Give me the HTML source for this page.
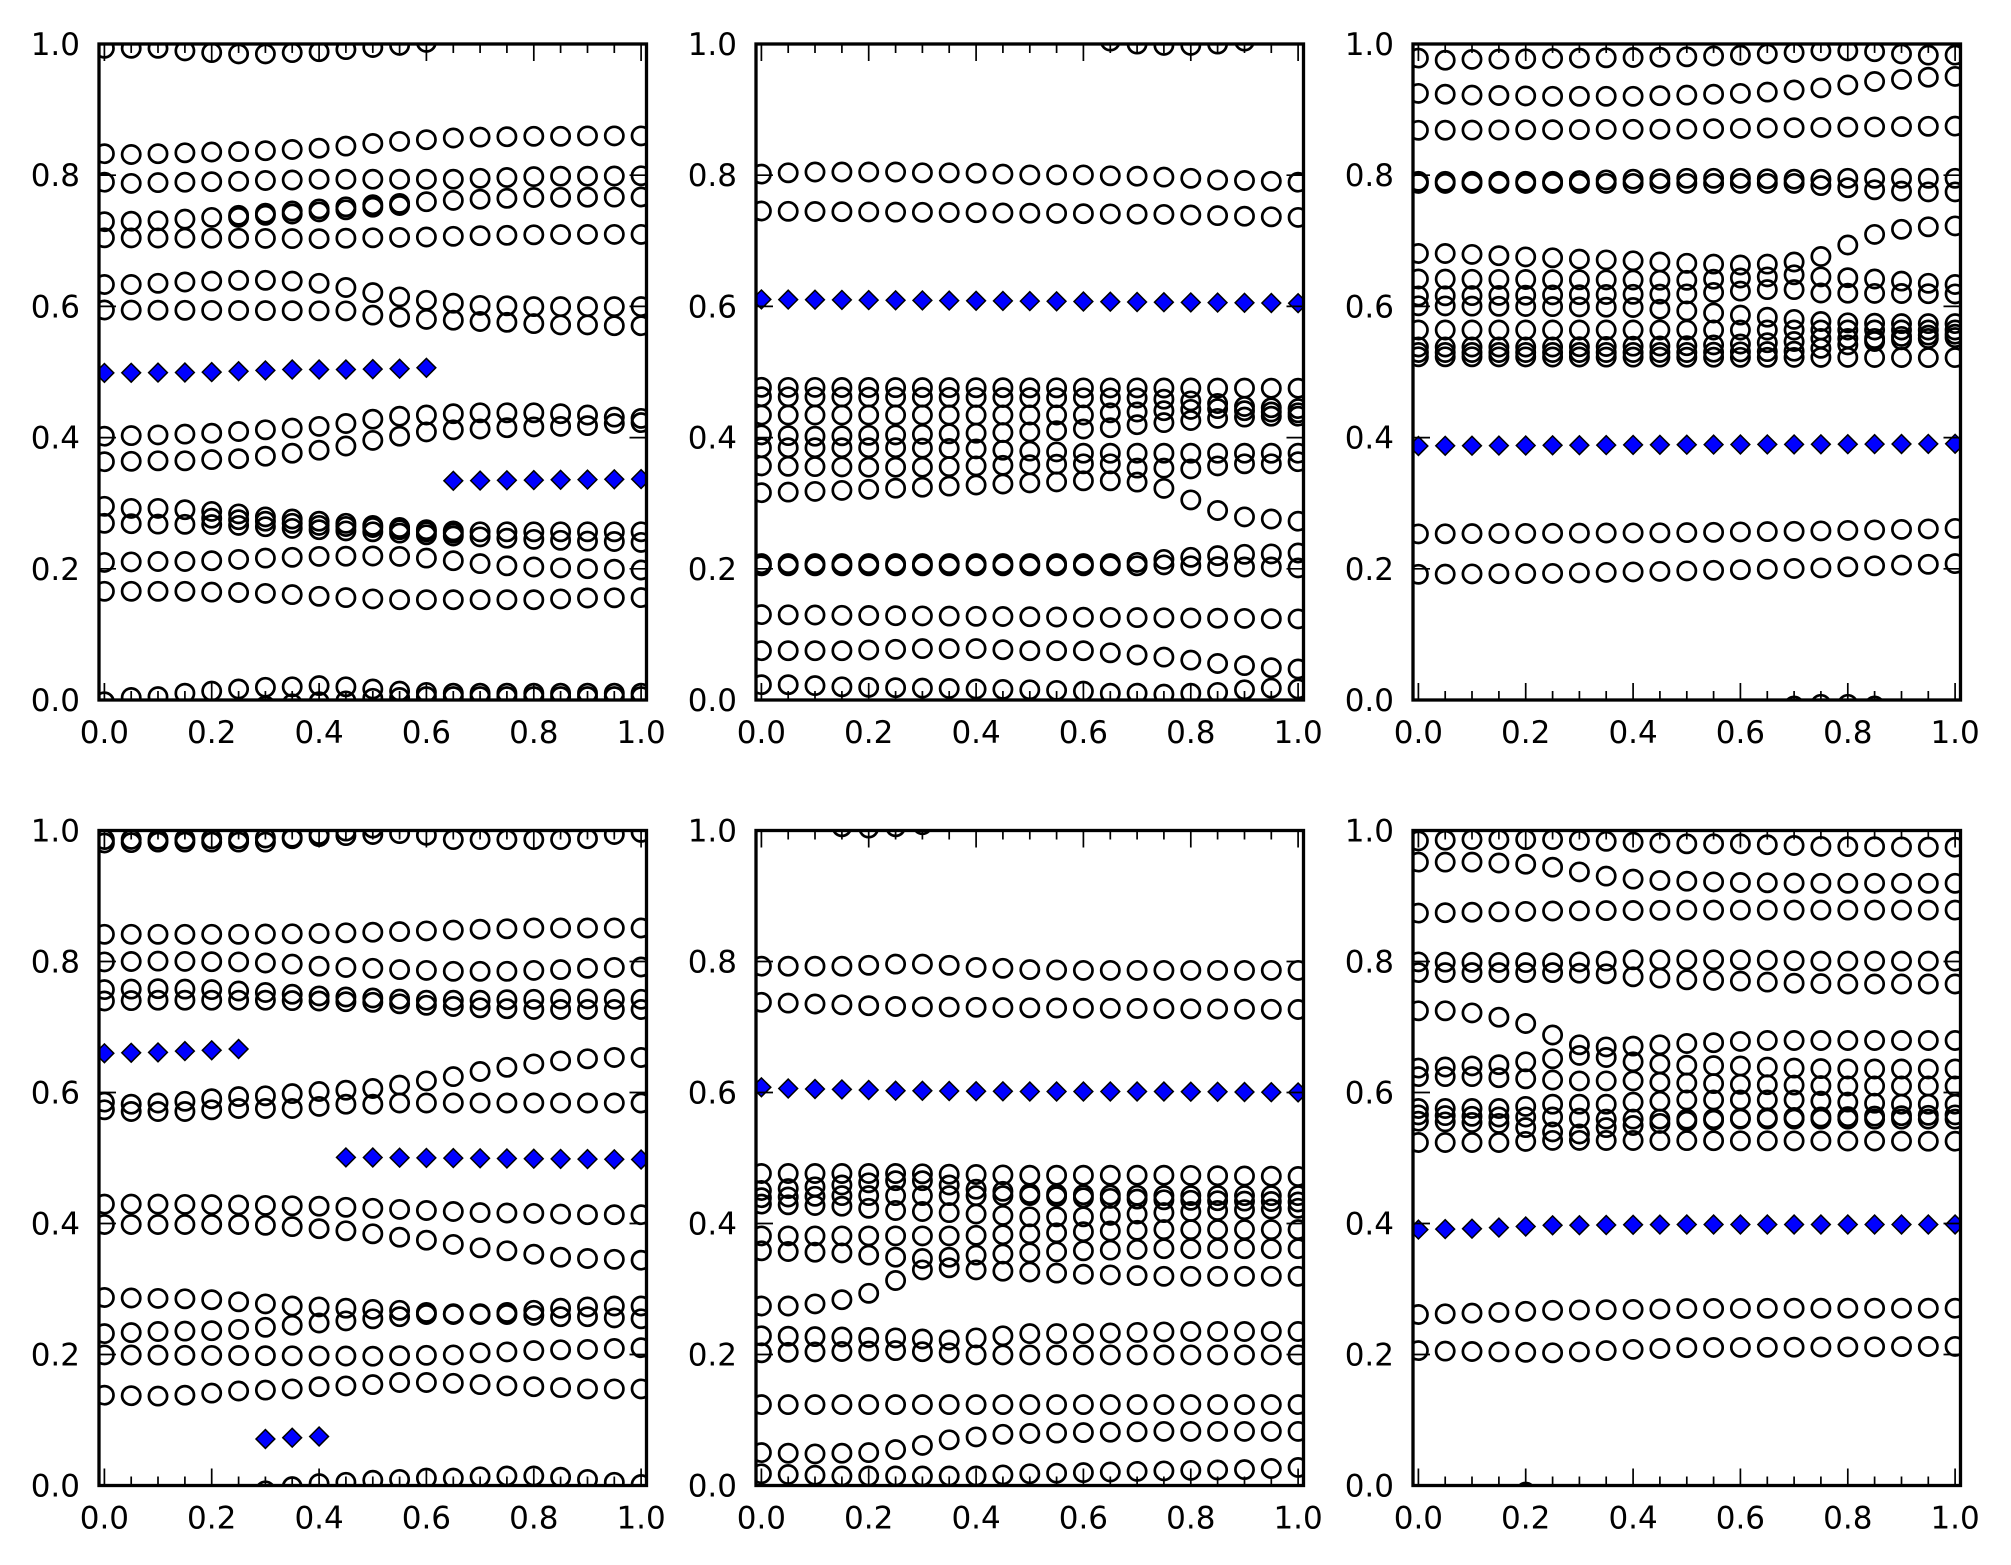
<!DOCTYPE html>
<html>
<head>
<meta charset="utf-8">
<style>
html,body{margin:0;padding:0;background:#fff;}
svg{display:block;}
text{font-family:"DejaVu Sans","Liberation Sans",sans-serif;font-size:31px;fill:#000;}
</style>
</head>
<body>
<svg id="s" width="2011" height="1565" viewBox="0 0 2011 1565" xmlns="http://www.w3.org/2000/svg">
<rect width="2011" height="1565" fill="#fff"/>
<defs>
<clipPath id="c0"><rect x="99" y="44" width="547.5" height="656"/></clipPath>
<clipPath id="c1"><rect x="756" y="44" width="547.5" height="656"/></clipPath>
<clipPath id="c2"><rect x="1413" y="44" width="547.5" height="656"/></clipPath>
<clipPath id="c3"><rect x="99" y="830.5" width="547.5" height="655"/></clipPath>
<clipPath id="c4"><rect x="756" y="830.5" width="547.5" height="655"/></clipPath>
<clipPath id="c5"><rect x="1413" y="830.5" width="547.5" height="655"/></clipPath>
</defs>
<g id="data"></g>
<g id="ticks" stroke="#000" stroke-width="1.7" fill="none"></g>
<g id="frames" fill="none" stroke="#000" stroke-width="3.3">
<rect x="99" y="44" width="547.5" height="656"/>
<rect x="756" y="44" width="547.5" height="656"/>
<rect x="1413" y="44" width="547.5" height="656"/>
<rect x="99" y="830.5" width="547.5" height="655"/>
<rect x="756" y="830.5" width="547.5" height="655"/>
<rect x="1413" y="830.5" width="547.5" height="655"/>
</g>
<g text-anchor="middle">
<text x="104.4" y="743">0.0</text><text x="211.7" y="743">0.2</text><text x="319.1" y="743">0.4</text><text x="426.4" y="743">0.6</text><text x="533.8" y="743">0.8</text><text x="641.1" y="743">1.0</text>
<text x="761.4" y="743">0.0</text><text x="868.7" y="743">0.2</text><text x="976.1" y="743">0.4</text><text x="1083.4" y="743">0.6</text><text x="1190.8" y="743">0.8</text><text x="1298.1" y="743">1.0</text>
<text x="1418.4" y="743">0.0</text><text x="1525.7" y="743">0.2</text><text x="1633.1" y="743">0.4</text><text x="1740.4" y="743">0.6</text><text x="1847.8" y="743">0.8</text><text x="1955.1" y="743">1.0</text>
<text x="104.4" y="1528.5">0.0</text><text x="211.7" y="1528.5">0.2</text><text x="319.1" y="1528.5">0.4</text><text x="426.4" y="1528.5">0.6</text><text x="533.8" y="1528.5">0.8</text><text x="641.1" y="1528.5">1.0</text>
<text x="761.4" y="1528.5">0.0</text><text x="868.7" y="1528.5">0.2</text><text x="976.1" y="1528.5">0.4</text><text x="1083.4" y="1528.5">0.6</text><text x="1190.8" y="1528.5">0.8</text><text x="1298.1" y="1528.5">1.0</text>
<text x="1418.4" y="1528.5">0.0</text><text x="1525.7" y="1528.5">0.2</text><text x="1633.1" y="1528.5">0.4</text><text x="1740.4" y="1528.5">0.6</text><text x="1847.8" y="1528.5">0.8</text><text x="1955.1" y="1528.5">1.0</text>
</g>
<g text-anchor="end">
<text x="80" y="55">1.0</text><text x="80" y="186.2">0.8</text><text x="80" y="317.4">0.6</text><text x="80" y="448.6">0.4</text><text x="80" y="579.8">0.2</text><text x="80" y="711">0.0</text>
<text x="737" y="55">1.0</text><text x="737" y="186.2">0.8</text><text x="737" y="317.4">0.6</text><text x="737" y="448.6">0.4</text><text x="737" y="579.8">0.2</text><text x="737" y="711">0.0</text>
<text x="1394" y="55">1.0</text><text x="1394" y="186.2">0.8</text><text x="1394" y="317.4">0.6</text><text x="1394" y="448.6">0.4</text><text x="1394" y="579.8">0.2</text><text x="1394" y="711">0.0</text>
<text x="80" y="841.5">1.0</text><text x="80" y="972.5">0.8</text><text x="80" y="1103.5">0.6</text><text x="80" y="1234.5">0.4</text><text x="80" y="1365.5">0.2</text><text x="80" y="1496.5">0.0</text>
<text x="737" y="841.5">1.0</text><text x="737" y="972.5">0.8</text><text x="737" y="1103.5">0.6</text><text x="737" y="1234.5">0.4</text><text x="737" y="1365.5">0.2</text><text x="737" y="1496.5">0.0</text>
<text x="1394" y="841.5">1.0</text><text x="1394" y="972.5">0.8</text><text x="1394" y="1103.5">0.6</text><text x="1394" y="1234.5">0.4</text><text x="1394" y="1365.5">0.2</text><text x="1394" y="1496.5">0.0</text>
</g>
</svg>
<script>
(function(){
var NS="http://www.w3.org/2000/svg";
var W=547.5, Ls=[99,756,1413], Ts=[44,830.5], Bs=[700,1485.5], CY=[39,826], SC=2.354;
var P=[
{c:0,r:0,circ:[
"0:22 1:22 2:22 3:28 4:32 5:35 6:35 7:32 8:30 9:25 10:20 11:15 12:8",
"0:270 1:272 2:270 3:268 4:266 5:265 6:263 7:260 8:257 9:252 10:246 11:241 12:237 13:233 14:231 15:230 16:229 17:229 18:228 19:228 20:228",
"0:337 1:340 2:338 3:337 4:336 5:335 6:333 7:332 8:330 13:330 14:328 15:326 16:324 17:323 18:323 20:322",
"0:430 2:428 3:424 4:420 5:415 6:410 7:405 8:400 9:395 10:390 11:387 12:383 13:380 14:377 15:375 16:373 20:372",
"5:420 6:415 7:412 8:407 9:402 10:396 11:392",
"0:468 8:470 10:468 12:466 14:463 16:461 18:460 20:460",
"0:578 1:578 2:575 3:572 4:570 5:568 6:568 7:570 8:575 9:585 10:597 11:607 12:615 13:622 14:627 15:628 16:630 20:630",
"0:638 9:640 10:650 11:655 12:660 13:662 14:665 15:667 16:670 17:673 18:673 19:675 20:675",
"0:935 2:932 4:928 6:920 8:912 9:905 10:895 11:888 12:885 13:882 14:880 16:880 17:882 18:885 19:890 20:893",
"0:995 2:993 3:993 4:990 5:988 6:982 7:975 8:968 9:958 10:945 11:935 12:925 13:920 14:918 15:915 16:913 17:912 18:910 19:905 20:903",
"0:1100 1:1105 2:1105 3:1108 4:1112 5:1118 6:1125 7:1130 8:1135 9:1140 10:1145 11:1150 12:1155 13:1158 14:1160 20:1160",
"0:1140 2:1142 4:1143 5:1145 6:1148 7:1152 8:1155 9:1158 10:1160 11:1163 12:1167 13:1170 14:1172 15:1175 16:1178 17:1180 18:1182 19:1183 20:1185",
"4:1128 6:1135 8:1145 10:1150 12:1160 13:1163",
"0:1232 2:1230 3:1230 4:1228 5:1225 6:1222 7:1220 8:1218 10:1217 11:1218 12:1222 13:1228 14:1235 15:1240 16:1243 17:1245 18:1247 19:1248 20:1250",
"0:1300 3:1300 4:1302 5:1303 6:1305 7:1308 8:1312 9:1315 10:1318 11:1320 16:1320 17:1318 18:1316 20:1315",
"0:1560 1:1550 2:1548 3:1540 4:1535 5:1530 6:1526 7:1525 8:1522 9:1525 10:1530 11:1535 12:1538 13:1540 20:1540",
"5:1575 6:1570 7:1565 8:1560 9:1558 10:1552 11:1550 12:1548 20:1548"
],dia:[
"0:786 3:785 4:784 5:782 6:780 7:778 9:778 10:777 11:776 12:774",
"13:1040 20:1036"
]},
{c:1,r:0,circ:[
"13:5 14:12 15:15 16:15 17:12 18:5",
"0:318 1:315 2:313 5:313 6:315 7:315 8:316 9:318 10:320 12:320 13:322 14:323 15:325 16:328 17:332 18:333 19:335 20:337",
"0:405 10:410 15:413 20:420",
"0:820 20:822",
"0:842 14:845 15:848 16:852 17:858 18:865 19:868 20:870",
"0:885 12:885 13:880 14:878 15:875 16:872 17:870 18:875 19:878 20:880",
"0:932 2:935 5:932 8:928 10:925 11:922 12:918 13:915 14:908 15:903 16:898 17:893 18:890 19:888 20:888",
"0:962 5:962 8:965 9:968 10:970 11:972 12:975 20:975",
"0:1005 4:1008 6:1008 8:1005 10:1002 12:1000 13:1000 14:1010 15:1010 16:1012 17:1005 18:1000 19:1000 20:995",
"0:1068 2:1065 4:1060 6:1055 8:1050 10:1045 12:1040 13:1040 14:1043 15:1058 16:1085 17:1110 18:1125 19:1130 20:1135",
"0:1235 13:1235 14:1232 15:1225 16:1220 17:1216 18:1213 19:1212 20:1210",
"0:1240 10:1240 14:1240 15:1238 16:1240 17:1242 18:1243 19:1243 20:1245",
"0:1355 20:1365",
"0:1440 3:1440 6:1435 8:1435 10:1440 12:1440 13:1445 14:1450 15:1455 16:1462 17:1470 18:1475 19:1480 20:1483",
"0:1520 1:1520 2:1522 3:1525 5:1527 8:1530 10:1532 12:1535 13:1540 14:1540 15:1542 16:1540 17:1538 18:1532 19:1528 20:1530"
],dia:["0:613 10:617 20:622"]},
{c:2,r:0,circ:[
"0:45 1:50 2:48 10:42 12:38 14:32 15:28 16:28 17:30 18:35 19:38 20:38",
"0:128 2:132 5:135 8:135 10:132 12:128 13:125 14:120 15:115 16:108 17:100 18:95 19:90 20:88",
"0:215 10:212 15:208 20:205",
"0:335 5:335 8:330 10:328 12:328 14:330 15:330 16:328 20:328",
"0:340 14:340 15:345 16:350 17:355 18:358 19:360 20:360",
"0:505 1:505 2:507 3:510 4:513 5:515 6:518 7:520 8:522 9:525 10:528 11:530 12:532 13:530 14:525 15:512 16:485 17:460 18:448 19:442 20:440",
"0:565 10:568 13:560 14:555 15:560 16:562 17:565 18:570 19:575 20:578",
"0:605 10:600 13:590 14:590 15:598 20:600",
"0:628 5:630 8:632 10:640 11:645 12:650 13:655 14:660 15:665 16:668 18:670 20:670",
"0:685 20:685",
"0:725 5:725 10:722 12:718 14:712 15:705 17:705 18:700 19:697 20:695",
"0:748 20:750",
"0:738 10:738 14:735 15:728 16:720 17:712 18:708 19:705 20:703",
"0:1165 10:1162 15:1158 20:1152",
"0:1260 5:1258 10:1252 13:1248 15:1245 17:1240 20:1235",
"13:1578 14:1570 15:1566 16:1566 17:1570 18:1578"
],dia:["0:958 10:955 20:953"]},
{c:0,r:1,circ:[
"0:32 5:30 8:25 10:20 11:18 12:22 13:32 17:32 18:30 19:20 20:15",
"0:40 2:38 6:38 7:30 8:20 9:12 10:5",
"0:255 5:255 8:253 10:250 12:247 14:243 15:242 16:240 20:240",
"0:320 2:318 5:320 7:325 8:330 9:333 10:335 11:338 12:340 13:342 15:342 16:340 17:338 18:335 19:333 20:332",
"0:385 2:383 4:385 6:392 8:400 10:405 12:410 14:410 16:408 18:407 20:408",
"0:412 2:410 6:410 8:412 10:415 12:422 14:428 16:432 20:432",
"0:650 1:655 2:652 3:648 4:642 5:637 6:635 7:630 8:625 9:622 10:618 11:610 12:600 13:590 14:578 15:568 16:560 17:553 18:548 19:545 20:545",
"0:668 1:672 3:672 4:668 5:665 7:665 8:660 9:655 10:655 11:652 20:652",
"0:890 2:890 5:892 8:895 10:900 12:905 14:910 16:912 18:915 20:915",
"0:938 5:938 6:940 7:943 8:948 9:953 10:960 11:968 12:975 13:985 14:993 15:1000 16:1008 17:1015 18:1018 19:1020 20:1022",
"0:1110 2:1112 3:1113 4:1115 5:1120 6:1125 7:1130 8:1132 9:1135 10:1138 11:1140 12:1145 13:1148 14:1148 15:1145 16:1140 17:1135 18:1132 19:1130 20:1130",
"0:1195 2:1190 4:1188 5:1185 6:1180 7:1175 8:1170 9:1165 10:1160 11:1155 12:1150 15:1150 16:1152 17:1155 18:1155 19:1158 20:1160",
"0:1245 10:1248 13:1245 14:1240 15:1238 16:1235 17:1233 18:1232 19:1230 20:1228",
"0:1340 2:1342 3:1340 4:1335 5:1330 6:1328 7:1325 8:1320 9:1318 10:1315 11:1310 12:1310 13:1312 14:1315 15:1318 16:1320 17:1322 18:1325 20:1325",
"5:1580 6:1565 7:1555 8:1548 9:1545 10:1540 11:1538 12:1535 13:1535 14:1532 15:1530 16:1530 17:1533 18:1538 19:1545 20:1550"
],dia:["0:535 2:533 3:530 4:528 5:525","9:780 20:785","6:1443 7:1440 8:1437"]},
{c:1,r:1,circ:[
"3:2 4:5 5:2 6:-3",
"0:330 3:330 4:328 5:325 6:325 7:328 8:333 9:335 10:338 12:340 20:340",
"0:415 5:425 10:428 15:430 20:432",
"0:818 5:818 10:822 15:822 20:825",
"0:858 3:845 5:835 6:835 7:845 8:855 10:865 12:868 15:870 20:870",
"0:875 3:870 10:870 12:875 15:880 20:885",
"0:890 3:895 5:905 7:910 10:920 12:920 15:910 17:905 20:900",
"0:965 7:965 9:962 10:960 12:955 15:950 20:950",
"0:1000 3:1005 5:1015 6:1018 7:1015 8:1010 10:1005 12:1000 15:995 20:995",
"0:1130 1:1130 2:1125 3:1115 4:1100 5:1070 6:1045 7:1040 8:1045 9:1048 10:1050 12:1055 15:1060 20:1060",
"0:1200 5:1205 7:1210 8:1205 9:1200 10:1195 12:1195 14:1192 16:1190 20:1190",
"0:1240 5:1235 7:1240 8:1245 20:1245",
"0:1362 20:1362",
"0:1475 2:1478 4:1475 5:1468 6:1458 7:1445 8:1438 9:1432 10:1430 12:1428 15:1425 20:1425",
"0:1525 3:1530 8:1530 10:1525 12:1522 15:1518 18:1515 20:1510"
],dia:["0:615 1:618 3:620 5:623 10:625 15:625 20:627"]},
{c:2,r:1,circ:[
"0:35 2:32 5:32 8:38 10:42 12:42 15:48 20:50",
"0:85 2:85 3:87 4:90 5:97 6:108 7:118 8:125 9:128 10:130 12:133 15:135 20:135",
"0:205 5:200 10:198 20:198",
"0:320 5:322 6:320 7:318 8:315 12:315 15:318 20:318",
"0:345 5:345 7:348 8:355 9:358 10:362 12:365 14:370 16:372 20:372",
"0:435 1:435 2:440 3:450 4:465 5:492 6:515 7:520 8:518 9:515 10:512 11:510 12:507 13:505 20:505",
"0:570 3:562 4:555 5:548 6:540 7:545 8:555 9:560 10:563 12:565 14:570 16:572 20:572",
"0:590 2:590 4:595 5:598 6:600 8:600 9:603 10:605 12:608 14:610 16:612 20:612",
"0:665 3:665 5:655 7:655 8:650 9:648 10:645 14:645 16:650 18:655 20:655",
"0:680 3:685 5:685 7:690 10:690 15:685 20:680",
"0:695 2:698 3:700 4:710 5:720 6:725 7:710 8:705 9:700 10:695 12:690 20:690",
"0:745 3:745 5:740 20:742",
"0:1150 3:1145 5:1140 8:1138 10:1136 15:1135 20:1135",
"0:1235 5:1240 6:1238 8:1232 10:1228 20:1225",
"3:1575 4:1568 5:1575"
],dia:["0:950 2:948 5:940 10:938 20:938"]}
];
function expand(s){
  var k=s.trim().split(/\s+/).map(function(p){return p.split(':').map(Number);});
  var out=[];
  for(var j=0;j<k.length-1;j++){
    var a=k[j],b=k[j+1];
    for(var i=a[0];i<b[0];i++){out.push([i,a[1]+(b[1]-a[1])*(i-a[0])/(b[0]-a[0])]);}
  }
  out.push(k[k.length-1]);
  return out;
}
function el(n,attrs,parent){var e=document.createElementNS(NS,n);for(var a in attrs)e.setAttribute(a,attrs[a]);if(parent)parent.appendChild(e);return e;}
var data=document.getElementById('data');
P.forEach(function(p,idx){
  var L=Ls[p.c], cy=CY[p.r];
  var g=el('g',{'clip-path':'url(#c'+idx+')'},data);
  var gc=el('g',{fill:'none',stroke:'#000','stroke-width':'2.7'},g);
  p.circ.forEach(function(s){
    expand(s).forEach(function(pt){
      var x=L+(pt[0]*0.05+0.01)/1.02*W, y=cy+pt[1]/SC;
      el('circle',{cx:x.toFixed(1),cy:y.toFixed(1),r:'9.1'},gc);
    });
  });
  var gd=el('g',{fill:'#0000ff',stroke:'#000','stroke-width':'1.5'},g);
  p.dia.forEach(function(s){
    expand(s).forEach(function(pt){
      var x=L+(pt[0]*0.05+0.01)/1.02*W, y=cy+pt[1]/SC, d=9.4;
      el('path',{d:'M'+(x-d).toFixed(1)+' '+y.toFixed(1)+'L'+x.toFixed(1)+' '+(y-d).toFixed(1)+'L'+(x+d).toFixed(1)+' '+y.toFixed(1)+'L'+x.toFixed(1)+' '+(y+d).toFixed(1)+'Z'},gd);
    });
  });
});
var tk=document.getElementById('ticks'), d='';
for(var r=0;r<2;r++){for(var c=0;c<3;c++){
  var L=Ls[c],R=L+W,T=Ts[r],B=Bs[r],H=B-T;
  for(var i=0;i<=20;i++){
    var x=L+(i*0.05+0.01)/1.02*W, len=(i%4===0)?17:9;
    d+='M'+x.toFixed(1)+' '+T+'v'+len+'M'+x.toFixed(1)+' '+B+'v'+(-len);
  }
  for(var j=0;j<=5;j++){
    var y=T+(1-j*0.2)*H;
    d+='M'+L+' '+y.toFixed(1)+'h17M'+R+' '+y.toFixed(1)+'h-17';
  }
}}
el('path',{d:d},tk);
})();
</script>
</body>
</html>
